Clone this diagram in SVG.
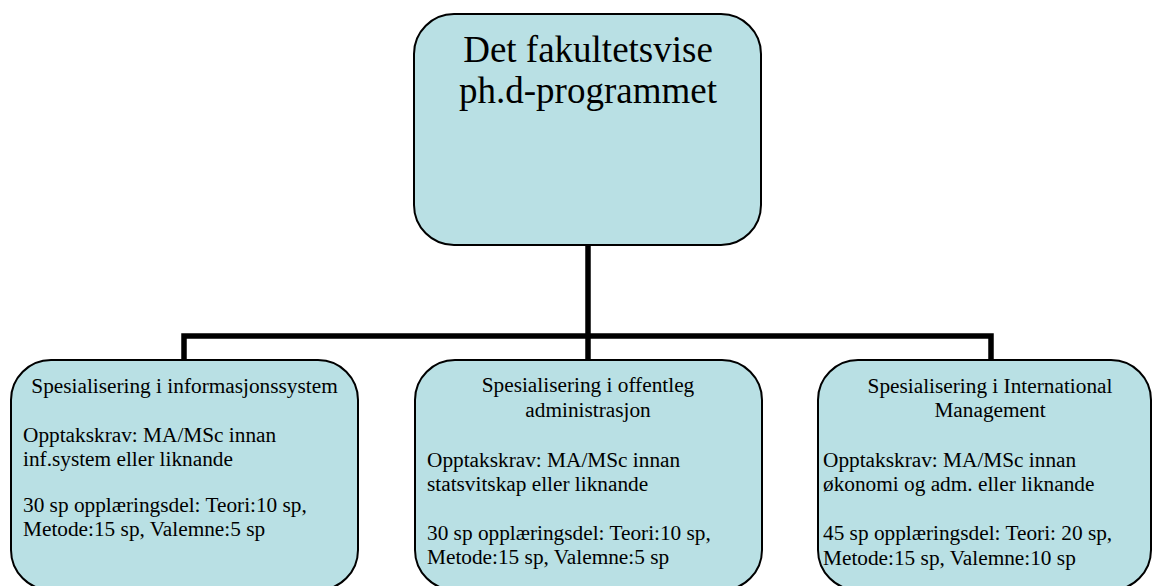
<svg xmlns="http://www.w3.org/2000/svg" width="1155" height="586" viewBox="0 0 1155 586">
<style>
.box{fill:#B9E0E4;stroke:#000;stroke-width:2}
.t{font-family:"Liberation Serif","Times New Roman",serif;fill:#000}
.title{font-size:37px;text-anchor:middle}
.s{font-size:21.3px}
.c{text-anchor:middle}
.conn{fill:none;stroke:#000;stroke-width:5.5;stroke-linecap:butt;stroke-linejoin:miter}
</style>
<rect width="1155" height="586" fill="#fff"/>
<g id="connectors">
<path class="conn" d="M588 245 V360"/>
<path class="conn" d="M184 360 V336 H991 V360"/>
</g>
<g id="top">
<rect class="box" x="414" y="14" width="347" height="231" rx="40" ry="40"/>
<text class="t title" x="588" y="62">Det fakultetsvise</text>
<text class="t title" x="588" y="103">ph.d-programmet</text>
</g>
<g id="left">
<rect class="box" x="11" y="360" width="347" height="230" rx="40" ry="40"/>
<text class="t s c" x="184.5" y="393">Spesialisering i informasjonssystem</text>
<text class="t s" x="23" y="442">Opptakskrav: MA/MSc innan</text>
<text class="t s" x="23" y="466">inf.system eller liknande</text>
<text class="t s" x="23" y="512">30 sp opplæringsdel: Teori:10 sp,</text>
<text class="t s" x="23" y="536">Metode:15 sp, Valemne:5 sp</text>
</g>
<g id="middle">
<rect class="box" x="415" y="360" width="347" height="230" rx="40" ry="40"/>
<text class="t s c" x="588" y="392">Spesialisering i offentleg</text>
<text class="t s c" x="588" y="417">administrasjon</text>
<text class="t s" x="427" y="467">Opptakskrav: MA/MSc innan</text>
<text class="t s" x="427" y="491">statsvitskap eller liknande</text>
<text class="t s" x="427" y="540">30 sp opplæringsdel: Teori:10 sp,</text>
<text class="t s" x="427" y="564">Metode:15 sp, Valemne:5 sp</text>
</g>
<g id="right">
<rect class="box" x="818" y="360" width="333" height="230" rx="40" ry="40"/>
<text class="t s c" x="990" y="393">Spesialisering i International</text>
<text class="t s c" x="990" y="417">Management</text>
<text class="t s" x="823" y="467">Opptakskrav: MA/MSc innan</text>
<text class="t s" x="823" y="491">økonomi og adm. eller liknande</text>
<text class="t s" x="823" y="540">45 sp opplæringsdel: Teori: 20 sp,</text>
<text class="t s" x="823" y="565">Metode:15 sp, Valemne:10 sp</text>
</g>
</svg>
